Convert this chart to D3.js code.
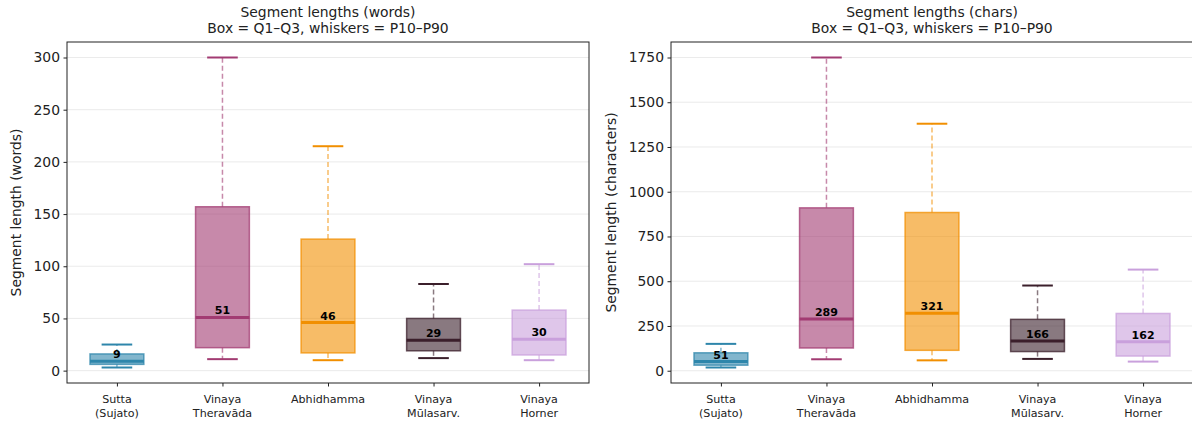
<!DOCTYPE html>
<html><head><meta charset="utf-8">
<script src="https://cdn.jsdelivr.net/npm/d3@7"></script>
<style>
body{margin:0;background:#fff;}
svg{font-family:"DejaVu Sans",sans-serif;}
</style></head>
<body><svg id="c" width="1192" height="425"></svg>
<script>
const categories = ["Sutta\n(Sujato)", "Vinaya\nTheravāda", "Abhidhamma", "Vinaya\nMūlasarv.", "Vinaya\nHorner"];
const colors = ["#2E86AB", "#A23B72", "#F18F01", "#3B1F2B", "#C9A0DC"];

const wordsP10 = [3, 11, 10, 12, 10];
const wordsQ1  = [6, 22, 17, 19, 15];
const wordsMed = [9, 51, 46, 29, 30];
const wordsQ3  = [16, 157, 126, 50, 58];
const wordsP90 = [25, 300, 215, 83, 102];
const wordsTicks = [0, 50, 100, 150, 200, 250, 300];

const charsP10 = [18, 64, 58, 66, 51];
const charsQ1  = [31, 127, 114, 107, 82];
const charsMed = [51, 289, 321, 166, 162];
const charsQ3  = [100, 910, 884, 287, 320];
const charsP90 = [150, 1750, 1380, 476, 565];
const charsTicks = [0, 250, 500, 750, 1000, 1250, 1500, 1750];

const svg = d3.select("#c");

function panel(opts) {
  const {x0, x1, y0, y1, p10, q1, med, q3, p90, ticks, title, ylabel, ylabelX} = opts;
  const g = svg.append("g");
  const lo = d3.min(p10), hi = d3.max(p90), m = (hi - lo) * 0.05;
  const y = d3.scaleLinear().domain([lo - m, hi + m]).range([y1, y0]);
  const x = d3.scalePoint().domain(d3.range(categories.length)).range([x0, x1]).padding(0.473);
  const step = x.step();

  // grid
  g.selectAll("line.grid").data(ticks).join("line")
    .attr("x1", x0).attr("x2", x1)
    .attr("y1", d => y(d)).attr("y2", d => y(d))
    .attr("stroke", "#b0b0b0").attr("stroke-opacity", 0.25).attr("stroke-width", 1);

  const data = categories.map((c, i) => ({i, p10: p10[i], q1: q1[i], med: med[i], q3: q3[i], p90: p90[i], col: colors[i]}));
  const bw = step * 0.51, cw = step * 0.29;
  const items = g.selectAll("g.item").data(data).join("g");
  // whiskers
  items.append("line").attr("x1", d => x(d.i)).attr("x2", d => x(d.i))
    .attr("y1", d => y(d.q3)).attr("y2", d => y(d.p90))
    .attr("stroke", d => d.col).attr("stroke-opacity", 0.6).attr("stroke-width", 1.5).attr("stroke-dasharray", "5,3");
  items.append("line").attr("x1", d => x(d.i)).attr("x2", d => x(d.i))
    .attr("y1", d => y(d.q1)).attr("y2", d => y(d.p10))
    .attr("stroke", d => d.col).attr("stroke-opacity", 0.6).attr("stroke-width", 1.5).attr("stroke-dasharray", "5,3");
  // caps
  ["p10", "p90"].forEach(k => {
    items.append("line").attr("x1", d => x(d.i) - cw / 2).attr("x2", d => x(d.i) + cw / 2)
      .attr("y1", d => y(d[k])).attr("y2", d => y(d[k]))
      .attr("stroke", d => d.col).attr("stroke-width", 2);
  });
  // boxes
  items.append("rect").attr("x", d => x(d.i) - bw / 2).attr("width", bw)
    .attr("y", d => y(d.q3)).attr("height", d => y(d.q1) - y(d.q3))
    .attr("fill", d => d.col).attr("fill-opacity", 0.6)
    .attr("stroke", d => d.col).attr("stroke-opacity", 0.75).attr("stroke-width", 1.5);
  // medians
  items.append("line").attr("x1", d => x(d.i) - bw / 2).attr("x2", d => x(d.i) + bw / 2)
    .attr("y1", d => y(d.med)).attr("y2", d => y(d.med))
    .attr("stroke", d => d.col).attr("stroke-width", 3);
  items.append("text").attr("x", d => x(d.i)).attr("y", d => y(d.med) - 3)
    .attr("text-anchor", "middle").attr("font-size", 11).attr("font-weight", "bold").attr("fill", "#000")
    .text(d => d.med);

  // frame
  g.append("rect").attr("x", x0).attr("y", y0).attr("width", x1 - x0).attr("height", y1 - y0)
    .attr("fill", "none").attr("stroke", "#222").attr("stroke-width", 1);

  // y axis
  const ya = g.append("g").attr("transform", `translate(${x0},0)`)
    .call(d3.axisLeft(y).tickValues(ticks).tickFormat(d3.format("d")).tickSize(3.5).tickPadding(3.5));
  ya.select(".domain").remove();
  ya.selectAll("line").attr("stroke", "#222");
  ya.selectAll("text").attr("font-size", 13.9).attr("fill", "#222").attr("font-family", "DejaVu Sans");

  // x axis
  const xa = g.append("g").attr("transform", `translate(0,${y1})`)
    .call(d3.axisBottom(x).tickSize(3.5).tickFormat(""));
  xa.select(".domain").remove();
  xa.selectAll("line").attr("stroke", "#222");
  const lbl = g.selectAll("text.cat").data(categories).join("text")
    .attr("class", "cat").attr("text-anchor", "middle").attr("font-size", 11.1).attr("fill", "#222")
    .attr("transform", (d, i) => `translate(${x(i)},${y1 + 19.5})`);
  lbl.each(function(d) {
    const t = d3.select(this);
    d.split("\n").forEach((s, k) => t.append("tspan").attr("x", 0).attr("dy", k === 0 ? 0 : 14.5).text(s));
  });

  // title
  const cx = (x0 + x1) / 2;
  g.append("text").attr("x", cx).attr("y", 17).attr("text-anchor", "middle").attr("font-size", 13.9).attr("fill", "#222").text(title[0]);
  g.append("text").attr("x", cx).attr("y", 33).attr("text-anchor", "middle").attr("font-size", 13.9).attr("fill", "#222").text(title[1]);
  // y label
  g.append("text").attr("transform", `translate(${ylabelX},${(y0 + y1) / 2}) rotate(-90)`)
    .attr("text-anchor", "middle").attr("font-size", 13.9).attr("fill", "#222").text(ylabel);
}

panel({x0: 67, x1: 589, y0: 42, y1: 383, p10: wordsP10, q1: wordsQ1, med: wordsMed, q3: wordsQ3, p90: wordsP90,
  ticks: wordsTicks, title: ["Segment lengths (words)", "Box = Q1–Q3, whiskers = P10–P90"],
  ylabel: "Segment length (words)", ylabelX: 21});
panel({x0: 671, x1: 1193, y0: 42, y1: 383, p10: charsP10, q1: charsQ1, med: charsMed, q3: charsQ3, p90: charsP90,
  ticks: charsTicks, title: ["Segment lengths (chars)", "Box = Q1–Q3, whiskers = P10–P90"],
  ylabel: "Segment length (characters)", ylabelX: 616});
</script></body></html>
